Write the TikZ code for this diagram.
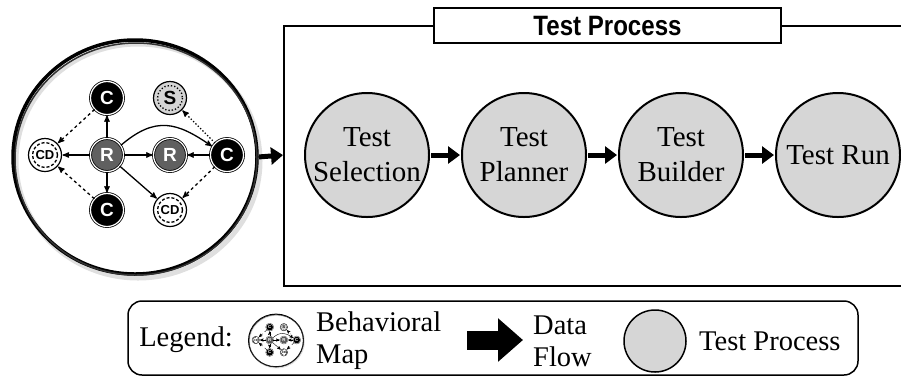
\documentclass[tikz,border=0pt]{standalone}
\usepackage{fontspec}
\setmainfont{Liberation Serif}
\setsansfont{Liberation Sans}
\newfontfamily\titlefont[FakeStretch=0.86]{Liberation Sans}
\usepackage{xcolor}
\usepackage{tikz}
\usetikzlibrary{arrows,arrows.meta,shapes,positioning}
\tikzset{>=stealth'}

\definecolor{procgray}{RGB}{214,214,214}
\definecolor{rgray}{RGB}{96,96,96}
\definecolor{sgray}{RGB}{212,212,212}

% behavioral map, #1 = line width factor
\tikzset{
  bmap/.pic={
    \def\lw{#1}
    \draw[line width=5*\lw pt, gray!25] (3,6) ellipse [x radius=122, y radius=117];
    \draw[line width=3.5*\lw pt, black] (0,2) ellipse [x radius=122, y radius=117];
    \draw[line width=1.5*\lw pt, black!80] (1,4) ellipse [x radius=121, y radius=116];
    \coordinate (-east) at (123,2);

    \node[cnode] (-ct) at (-28,-57) {C};
    \node[snode] (-s) at (35,-57) {S};
    \node[cdnode] (-cdl) at (-90,0) {CD};
    \node[rnode] (-rl) at (-28,0) {R};
    \node[rnode] (-rm) at (35,0) {R};
    \node[cnode] (-cr) at (92,0) {C};
    \node[cnode] (-cb) at (-28,55) {C};
    \node[cdnode] (-cdb) at (35,55) {CD};

    \foreach \n in {-cdl,-cdb}
      \draw[dashed, line width=1.3*\lw pt, dash pattern=on 3pt off 2pt] (\n.center) circle [radius=12.5];
    \draw[dotted, line width=1.3*\lw pt] (-s.center) circle [radius=12.5];

    \draw[mapline] (-rl) -- (-ct);
    \draw[mapline] (-rl) -- (-cb);
    \draw[mapline] (-rl) -- (-cdl);
    \draw[mapline] (-rl) -- (-rm);
    \draw[mapline] (-rl) -- (-cdb);
    \draw[mapline] (-rl.35) .. controls +(35,-30) and +(-35,-24) .. (-cr.150);
    \draw[mapline] (-cr) -- (-rm);
    \draw[mapline, dotted] (-cr) -- (-s);
    \draw[mapline, dashed] (-cr) -- (-cdb);
    \draw[mapline, dashed] (-ct) -- (-cdl);
    \draw[mapline, dashed] (-cb) -- (-cdl);
  }
}

\begin{document}
\begin{tikzpicture}[x=1pt, y=-1pt,
    cnode/.style={circle, minimum size=33pt, inner sep=0pt, fill=black, draw=black,
                  line width=0.8*\lw pt, double=white, double distance=1.2*\lw pt,
                  text=white, font=\sffamily\bfseries\fontsize{19}{19}\selectfont},
    rnode/.style={cnode, fill=rgray},
    snode/.style={circle, minimum size=33pt, inner sep=0pt, fill=sgray, draw=black,
                  line width=1.2*\lw pt, font=\sffamily\bfseries\fontsize{19}{19}\selectfont},
    cdnode/.style={snode, fill=white, font=\sffamily\bfseries\fontsize{13}{13}\selectfont},
    mapline/.style={->, line width=1.3*\lw pt, shorten >=0.5pt},
    proc/.style={circle, minimum size=124pt, inner sep=0pt, fill=procgray, draw=black,
                 line width=2pt, align=center, font=\fontsize{29}{35}\selectfont},
    flow/.style={line width=5pt, -{Triangle[length=12pt, width=17pt]},
                 shorten <=1pt, shorten >=1pt},
    bigflow/.style={line width=19pt, -{Triangle[length=25pt, width=42pt]}},
    titlebox/.style={draw, fill=white, line width=1.5pt, minimum width=347pt,
                     minimum height=35pt, font=\titlefont\bfseries\fontsize{28}{28}\selectfont},
    legtext/.style={font=\fontsize{28.5}{32}\selectfont, inner sep=0pt},
  ]

\useasboundingbox (0,0) rectangle (901,376);

% behavioral map
\pic (map) at (135,155) {bmap=1};

% test process box
\draw[line width=1.5pt] (901,26) -- (284,26) -- (284,286) -- (901,286);
\coordinate (boxw) at (284,155);
\node[titlebox] (title) at (607.5,25.5) {Test Process};

\draw[flow] (map-east) -- (boxw);

\node[proc] (sel) at (367,155) {Test\\Selection};
\node[proc, right=31pt of sel] (plan) {Test\\Planner};
\node[proc, right=31pt of plan] (build) {Test\\Builder};
\node[proc, right=31pt of build] (run) {Test Run};

\draw[flow] (sel) -- (plan);
\draw[flow] (plan) -- (build);
\draw[flow] (build) -- (run);

% legend
\draw[line width=1.5pt, rounded corners=14pt] (128,301) rectangle (858,375);
\node[legtext] (leg) at (186,340) {Legend:};
\pic[scale=0.225, transform shape] (mini) at (276,340) {bmap=0.3};
\node[legtext, anchor=west, align=left] (bm) at (316,341) {Behavioral\\Map};
\coordinate (fa) at (467,340);
\coordinate (fb) at (523,340);
\draw[bigflow] (fa) -- (fb);
\node[legtext, anchor=west, align=left] (df) at (533,341) {Data\\Flow};
\node[proc, minimum size=62pt, line width=1.5pt] (legproc) at (655,341) {};
\node[legtext, anchor=west] (tp) at (699,341) {Test Process};

\end{tikzpicture}
\end{document}
